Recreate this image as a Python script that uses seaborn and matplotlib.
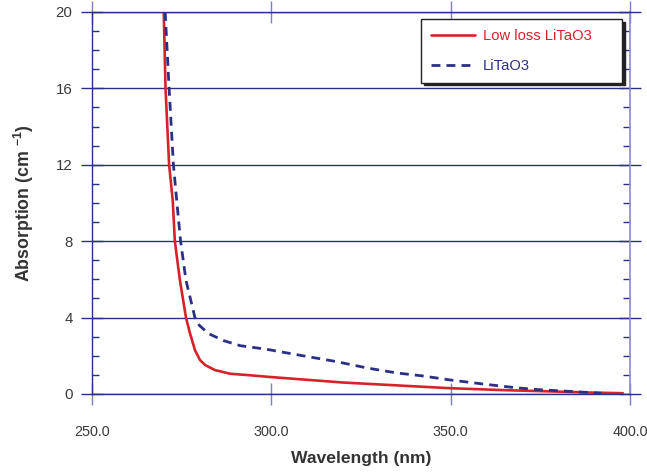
import numpy as np
import pandas as pd
import matplotlib
matplotlib.use("Agg")
import matplotlib.pyplot as plt
import matplotlib.transforms as mtransforms
import seaborn as sns
from matplotlib.ticker import MultipleLocator, FormatStrFormatter

# Data
wl_lowloss = [270.0, 270.5, 271.5, 272.5, 273.1, 274.5, 276.2, 277.3, 278.7, 280.1,
              281.5, 284.3, 288.5, 294.0, 299.6, 308.0, 320.0, 335.0, 350.0, 365.0,
              375.0, 390.0, 398.0]
abs_lowloss = [20.0, 16.0, 12.0, 10.16, 8.0, 5.97, 4.0, 3.19, 2.3, 1.78,
               1.52, 1.25, 1.06, 0.98, 0.89, 0.77, 0.6, 0.45, 0.3, 0.2,
               0.15, 0.07, 0.04]

wl_std = [270.4, 271.5, 272.7, 273.6, 274.7, 276.2, 278.7, 279.9, 282.4, 286.6, 291.3,
          298.7, 307.0, 318.0, 327.0, 335.0, 342.0, 350.0, 360.0, 368.5, 375.0, 382.0, 392.0]
abs_std = [20.0, 16.0, 12.0, 10.16, 8.0, 5.95, 4.0, 3.6, 3.17, 2.8, 2.53,
           2.34, 2.06, 1.7, 1.35, 1.1, 0.95, 0.73, 0.5, 0.32, 0.22, 0.15, 0.04]

labels = ["Low loss LiTaO3", "LiTaO3"]

RED = "#d7222a"
NAVY = "#2b2f86"

sns.set_style("white")
plt.rcParams["font.family"] = ["Liberation Sans", "DejaVu Sans"]
plt.rcParams["mathtext.default"] = "regular"

df1 = pd.DataFrame({"wl": wl_lowloss, "a": abs_lowloss})
df2 = pd.DataFrame({"wl": wl_std, "a": abs_std})

fig = plt.figure(figsize=(6.47, 4.72), dpi=100)
ax = fig.add_axes([0.1422, 0.1653, 0.8315, 0.8093])

sns.lineplot(data=df1, x="wl", y="a", ax=ax, color=RED, linewidth=1.9,
             label=labels[0], sort=False)
sns.lineplot(data=df2, x="wl", y="a", ax=ax, color=NAVY, linewidth=2.0,
             label=labels[1], sort=False)
ax.lines[1].set_dashes([3.2, 2.2])

ax.set_xlim(250, 400)
ax.set_ylim(0, 20)
ax.xaxis.set_major_locator(MultipleLocator(50))
ax.xaxis.set_major_formatter(FormatStrFormatter("%.1f"))
ax.yaxis.set_major_locator(MultipleLocator(4))
ax.yaxis.set_minor_locator(MultipleLocator(1))

ax.grid(axis="y", which="major", color=NAVY, linewidth=1.0)
ax.set_axisbelow(True)

for s in ["left", "top", "bottom"]:
    ax.spines[s].set_color(NAVY)
    ax.spines[s].set_linewidth(1.0)
ax.spines["right"].set_color("#8a8cc4")
ax.spines["right"].set_linewidth(1.2)

ax.tick_params(axis="x", which="major", direction="inout", length=16, width=1.0,
               color="#7d7fbf", top=True, bottom=True, pad=14,
               labelsize=10.4, labelcolor="#3a3a3a")
ax.tick_params(axis="y", which="major", direction="inout", length=16, width=1.0,
               color=NAVY, left=True, right=True, pad=6,
               labelsize=10.8, labelcolor="#3a3a3a")
ax.tick_params(axis="y", which="minor", direction="in", length=5, width=1.0,
               color=NAVY, left=True, right=True)

# nudge the last x label so it stays inside the figure
fig.canvas.draw()
last = ax.get_xticklabels()[-1]
last.set_transform(last.get_transform() +
                   mtransforms.ScaledTranslation(-3 / 72, 0, fig.dpi_scale_trans))

ax.set_xlabel("Wavelength (nm)", fontsize=12.6, fontweight="bold", color="#333333", labelpad=9)
ax.set_ylabel("Absorption (cm $^{-1}$)", fontsize=12.8, fontweight="bold", color="#333333", labelpad=14)

leg = ax.legend(loc="upper left", bbox_to_anchor=(0.6115, 0.821, 0.3736, 0.160),
                mode="expand", borderaxespad=0, frameon=True,
                shadow={"color": "#222222", "alpha": 1.0}, fancybox=False,
                edgecolor="#222222", fontsize=10.6, handlelength=3.05,
                labelcolor="linecolor", borderpad=0.65, labelspacing=1.1,
                handletextpad=0.5)
leg.get_frame().set_linewidth(1.0)

fig.savefig("out.png", dpi=100)
